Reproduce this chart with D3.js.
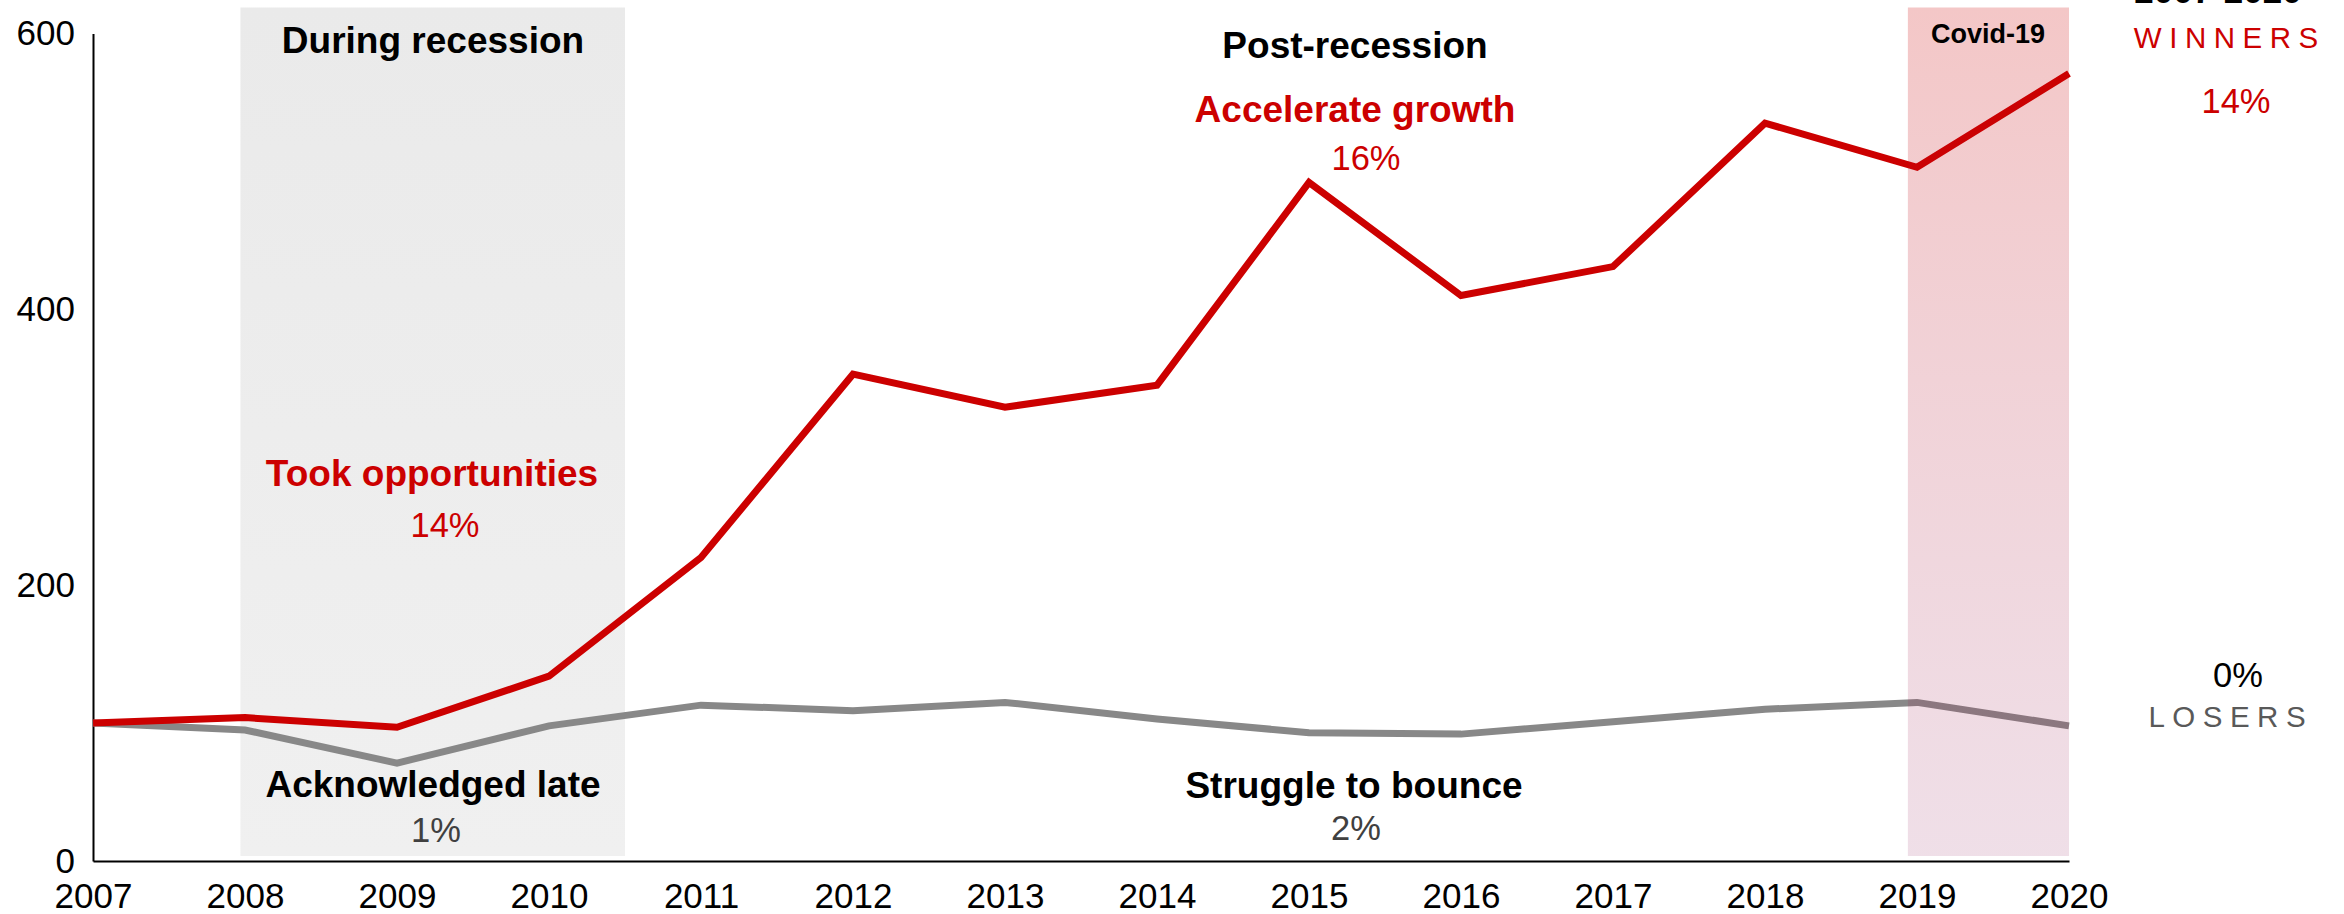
<!DOCTYPE html>
<html>
<head>
<meta charset="utf-8">
<script src="https://cdn.jsdelivr.net/npm/d3@7"></script>
<style>
  html, body { margin: 0; padding: 0; background: #fff; }
  svg { display: block; font-family: "Liberation Sans", Arial, sans-serif; }
</style>
</head>
<body>
<svg id="chart" width="2344" height="914"></svg>
<script>
// Index (2007 = 100) for the two company groups
const years   = [2007, 2008, 2009, 2010, 2011, 2012, 2013, 2014, 2015, 2016, 2017, 2018, 2019, 2020];
const winners = [100, 104, 97, 134, 220, 353, 329, 345, 492, 410, 431, 535, 503, 571];
const losers  = [100, 95, 71, 98, 113, 109, 115, 103, 93, 92, 101, 110, 115, 98];
const yTicks  = [0, 200, 400, 600];

// Shaded periods, in years
const recession = [2007.97, 2010.5];
const covid     = [2018.94, 2020];

const RED = "#cc0000", GREY = "#888888";

const svg = d3.select("#chart");
const plotLeft = 93, plotRight = 2069, plotTop = 33.5, plotBottom = 861;

const x = d3.scaleLinear().domain([2007, 2020]).range([plotLeft, plotRight]);
const y = d3.scaleLinear().domain([0, 600]).range([plotBottom, plotTop]);

const defs = svg.append("defs");
const gGrey = defs.append("linearGradient").attr("id", "greyShade")
  .attr("x1", 0).attr("y1", 0).attr("x2", 0).attr("y2", 1);
gGrey.append("stop").attr("offset", "0%").attr("stop-color", "#eaeaea");
gGrey.append("stop").attr("offset", "100%").attr("stop-color", "#f0f0f0");

const gCovid = defs.append("linearGradient").attr("id", "covidShade")
  .attr("x1", 0).attr("y1", 0).attr("x2", 0).attr("y2", 1);
gCovid.append("stop").attr("offset", "0%").attr("stop-color", "rgb(204,0,0)").attr("stop-opacity", 0.22);
gCovid.append("stop").attr("offset", "100%").attr("stop-color", "rgb(150,40,100)").attr("stop-opacity", 0.15);

// shaded bands span from just above the 600 line to just above the axis
const bandTop = y(600) - 26, bandBottom = y(0) - 5;

svg.append("rect")
  .attr("x", x(recession[0])).attr("width", x(recession[1]) - x(recession[0]))
  .attr("y", bandTop).attr("height", bandBottom - bandTop)
  .attr("fill", "url(#greyShade)");

// Axes
const yAxis = d3.axisLeft(y).tickValues(yTicks).tickSize(0).tickSizeOuter(0).tickPadding(18);
const yG = svg.append("g").attr("transform", `translate(${plotLeft},0)`).call(yAxis);
yG.select(".domain").attr("stroke", "#000").attr("stroke-width", 2);
yG.selectAll("text").attr("font-size", 35).attr("fill", "#000")
  .attr("font-family", "'Liberation Sans', Arial, sans-serif");

const xAxis = d3.axisBottom(x).tickValues(years).tickFormat(d3.format("d")).tickSize(0).tickSizeOuter(0).tickPadding(22);
const xG = svg.append("g").attr("transform", `translate(0,${plotBottom})`).call(xAxis);
xG.select(".domain").attr("stroke", "#000").attr("stroke-width", 2);
xG.selectAll("text").attr("font-size", 35).attr("fill", "#000")
  .attr("font-family", "'Liberation Sans', Arial, sans-serif");

// Lines
const line = d3.line().x((d, i) => x(years[i])).y(d => y(d));
svg.append("path").datum(losers).attr("d", line)
  .attr("fill", "none").attr("stroke", GREY).attr("stroke-width", 7);
svg.append("path").datum(winners).attr("d", line)
  .attr("fill", "none").attr("stroke", RED).attr("stroke-width", 7);

// Covid band sits on top of the lines
svg.append("rect")
  .attr("x", x(covid[0])).attr("width", x(covid[1]) - x(covid[0]))
  .attr("y", bandTop).attr("height", bandBottom - bandTop)
  .attr("fill", "url(#covidShade)");

// Annotations
function label(txt, cx, by, opts) {
  const o = Object.assign({ size: 37, weight: "bold", fill: "#000", ls: 0 }, opts || {});
  svg.append("text")
    .attr("x", cx + o.ls / 2).attr("y", by)
    .attr("text-anchor", "middle")
    .attr("font-size", o.size).attr("font-weight", o.weight)
    .attr("fill", o.fill)
    .attr("letter-spacing", o.ls)
    .text(txt);
}

label("During recession", 433, 53);
label("Took opportunities", 432, 486, { fill: RED });
label("14%", 445, 537, { size: 34.5, weight: "normal", fill: RED });
label("Acknowledged late", 433, 797);
label("1%", 436, 842, { size: 34.5, weight: "normal", fill: "#404040" });

label("Post-recession", 1355, 58);
label("Accelerate growth", 1355, 122, { fill: RED });
label("16%", 1366, 170, { size: 34.5, weight: "normal", fill: RED });
label("Struggle to bounce", 1354, 798);
label("2%", 1356, 840, { size: 34.5, weight: "normal", fill: "#404040" });

label("Covid-19", 1988, 43, { size: 27 });

label("2007-2020", 2218, 3, { size: 35 });
label("WINNERS", 2226, 48, { size: 29.5, weight: "normal", fill: RED, ls: 7.5 });
label("14%", 2236, 113, { size: 34.5, weight: "normal", fill: RED });
label("0%", 2238, 687, { size: 34.5, weight: "normal", fill: "#000" });
label("LOSERS", 2227, 727, { size: 29.5, weight: "normal", fill: "#595959", ls: 7.5 });
</script>
</body>
</html>
